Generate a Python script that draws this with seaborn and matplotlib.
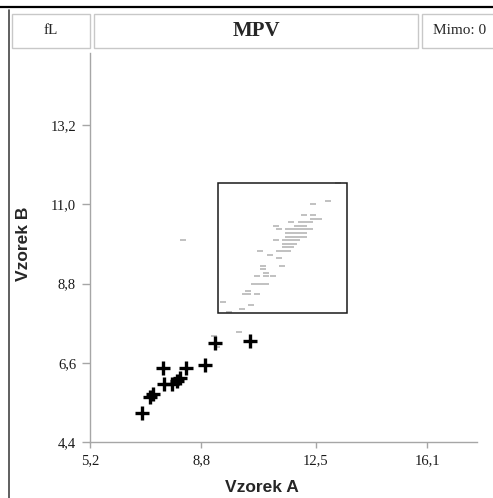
import matplotlib
matplotlib.use("Agg")
import matplotlib.pyplot as plt
from matplotlib.patches import Rectangle
from matplotlib.lines import Line2D
import pandas as pd
import seaborn as sns

# Paired results (black crosses)
cross_a = [6.89, 7.14, 7.24, 7.55, 7.59, 7.84, 8.0, 8.1, 8.3, 8.91, 9.23, 10.38]
cross_b = [5.2, 5.65, 5.73, 6.46, 6.0, 6.0, 6.08, 6.17, 6.46, 6.53, 7.16, 7.21]

# Background population (grey dashes), one row per B value
grey_rows = {
    11.6: [13.2],
    11.1: [12.9],
    11.0: [12.4],
    10.7: [12.1, 12.4],
    10.6: [12.4, 12.5, 12.6],
    10.5: [11.7, 12.0, 12.1, 12.2, 12.3],
    10.4: [11.2, 11.9, 12.0, 12.1],
    10.3: [11.3, 11.6, 11.7, 11.8, 11.9, 12.0, 12.1, 12.2, 12.3],
    10.2: [11.6, 11.7, 11.8, 11.9, 12.0, 12.1],
    10.1: [11.6, 11.7, 11.8, 11.9, 12.0, 12.1],
    10.0: [8.2, 11.2, 11.5, 11.6, 11.7, 11.8, 11.9],
    9.9: [11.5, 11.6, 11.8],
    9.8: [11.5, 11.6, 11.7],
    9.7: [10.7, 11.3, 11.4, 11.6],
    9.6: [11.0],
    9.5: [11.3],
    9.3: [10.8, 11.4],
    9.2: [10.8],
    9.1: [10.9],
    9.0: [10.6, 10.9, 11.1],
    8.8: [10.5, 10.6, 10.7, 10.8, 10.9],
    8.6: [10.3],
    8.5: [10.2, 10.3, 10.6],
    8.3: [9.5],
    8.2: [10.4],
    8.1: [10.1],
    8.0: [9.7],
    7.45: [10.0],
    7.35: [9.2],
    7.05: [9.3],
}
grey_a = [a for b, xs in grey_rows.items() for a in xs]
grey_b = [b for b, xs in grey_rows.items() for a in xs]

# Acceptance window
box_a = [9.33, 13.49]
box_b = [7.98, 11.59]

x_ticks = [5.2, 8.8, 12.5, 16.1]
x_tick_labels = ["5,2", "8,8", "12,5", "16,1"]
y_ticks = [4.4, 6.6, 8.8, 11.0, 13.2]
y_tick_labels = ["4,4", "6,6", "8,8", "11,0", "13,2"]

W, H = 493, 498
sns.set_style("white")
plt.rcParams["font.family"] = ["Liberation Serif", "DejaVu Serif"]

fig = plt.figure(figsize=(W / 100, H / 100), dpi=100)
ax = fig.add_axes([90 / W, (H - 442) / H, (477 - 90) / W, (442 - 53) / H])

grey_df = pd.DataFrame({"a": grey_a, "b": grey_b})
cross_df = pd.DataFrame({"a": cross_a, "b": cross_b})

dash = [(-1, -0.45), (1, -0.45), (1, 0.45), (-1, 0.45)]
sns.scatterplot(data=grey_df, x="a", y="b", marker=dash, s=20, color="#c2c2c2",
                linewidth=0, ax=ax, zorder=2)
ax.add_patch(Rectangle((box_a[0], box_b[0]), box_a[1] - box_a[0], box_b[1] - box_b[0],
                       fill=False, edgecolor="#1a1a1a", linewidth=1.1, zorder=3))
sns.scatterplot(data=cross_df, x="a", y="b", marker="+", s=95, color="black",
                linewidth=2.4, ax=ax, zorder=4)

ax.set_xlim(5.2, 17.7)
ax.set_ylim(4.4, 15.2)
ax.set_xticks(x_ticks)
ax.set_xticklabels(x_tick_labels)
ax.set_yticks(y_ticks)
ax.set_yticklabels(y_tick_labels)
for s in ["top", "right"]:
    ax.spines[s].set_visible(False)
for s in ["left", "bottom"]:
    ax.spines[s].set_color("#a6a6a6")
    ax.spines[s].set_linewidth(1.0)
ax.tick_params(axis="x", direction="out", length=4, width=1, color="#a6a6a6",
               pad=5, labelsize=10.5, labelcolor="#1a1a1a", bottom=True)
ax.tick_params(axis="y", direction="out", length=6, width=1, color="#a6a6a6",
               pad=4, labelsize=10.5, labelcolor="#1a1a1a", left=True)

ax.set_xlabel("Vzorek A", family="Liberation Sans", fontweight="bold", fontsize=12.5)
ax.set_ylabel("Vzorek B", family="Liberation Sans", fontweight="bold", fontsize=12.5)
ax.xaxis.set_label_coords((262 - 90) / 387, -0.098)
ax.yaxis.set_label_coords(-0.152, 0.51)

# page frame and header boxes
def px(x, y):
    return x / W, 1 - y / H

fig.add_artist(Line2D([0, 1], [1 - 7 / H] * 2, color="black", linewidth=1.6))
fig.add_artist(Line2D([9 / W] * 2, [0, 1 - 10 / H], color="#444444", linewidth=1.2))

def header_box(x0, y0, x1, y1):
    fig.add_artist(Rectangle(px(x0, y1), (x1 - x0) / W, (y1 - y0) / H,
                             transform=fig.transFigure, fill=False,
                             edgecolor="#c8c8c8", linewidth=1.0))

header_box(12, 14, 90, 48)
header_box(94, 14, 418, 48)
header_box(422, 14, 500, 48)

fig.text(*px(51, 31), "fL", ha="center", va="center", fontsize=11)
fig.text(*px(256, 31), "MPV", ha="center", va="center", fontsize=15, fontweight="bold")
fig.text(*px(460, 31), "Mimo: 0", ha="center", va="center", fontsize=11)

fig.savefig("out.png", dpi=100)
